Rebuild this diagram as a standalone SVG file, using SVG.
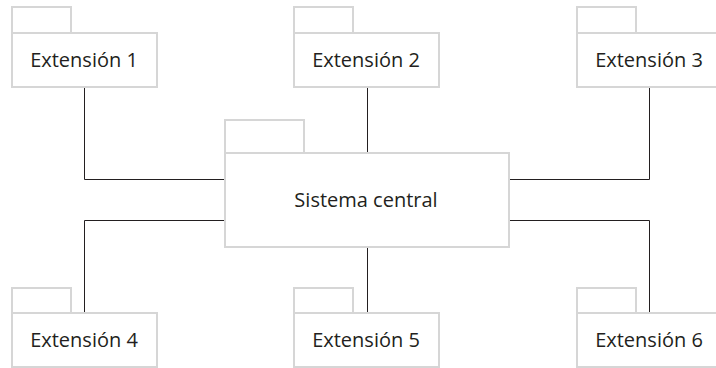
<svg xmlns="http://www.w3.org/2000/svg" width="716" height="368" viewBox="0 0 716 368">
<style>
.box{fill:#fff;stroke:#d6d6d6;stroke-width:2}
.lbl{font-family:"Open Sans","Noto Sans","DejaVu Sans",sans-serif;font-size:20px;fill:#231f20;text-anchor:middle}
.con{fill:none;stroke:#231f20;stroke-width:1}
</style>
<rect width="716" height="368" fill="#fff"/>
<g id="connectors">
<path class="con" d="M84.5,87V179.5H225"/>
<path class="con" d="M367.5,87V153"/>
<path class="con" d="M649.5,87V179.5H509"/>
<path class="con" d="M225,220.5H84.5V313"/>
<path class="con" d="M367.5,247V313"/>
<path class="con" d="M509,220.5H649.5V313"/>
</g>
<g id="ext1">
<rect class="box" x="12" y="7" width="59" height="26"/>
<rect class="box" x="12" y="33" width="145" height="54"/>
<text class="lbl" x="84" y="67">Extensión 1</text>
</g>
<g id="ext2">
<rect class="box" x="294" y="7" width="59" height="26"/>
<rect class="box" x="294" y="33" width="145" height="54"/>
<text class="lbl" x="366" y="67">Extensión 2</text>
</g>
<g id="ext3">
<rect class="box" x="577" y="7" width="59" height="26"/>
<rect class="box" x="577" y="33" width="145" height="54"/>
<text class="lbl" x="649" y="67">Extensión 3</text>
</g>
<g id="central">
<rect class="box" x="225" y="120" width="79" height="33"/>
<rect class="box" x="225" y="153" width="284" height="94"/>
<text class="lbl" x="366" y="207">Sistema central</text>
</g>
<g id="ext4">
<rect class="box" x="12" y="288" width="59" height="25"/>
<rect class="box" x="12" y="313" width="145" height="54"/>
<text class="lbl" x="84" y="347">Extensión 4</text>
</g>
<g id="ext5">
<rect class="box" x="294" y="288" width="59" height="25"/>
<rect class="box" x="294" y="313" width="145" height="54"/>
<text class="lbl" x="366" y="347">Extensión 5</text>
</g>
<g id="ext6">
<rect class="box" x="577" y="288" width="59" height="25"/>
<rect class="box" x="577" y="313" width="145" height="54"/>
<text class="lbl" x="649" y="347">Extensión 6</text>
</g>
</svg>
